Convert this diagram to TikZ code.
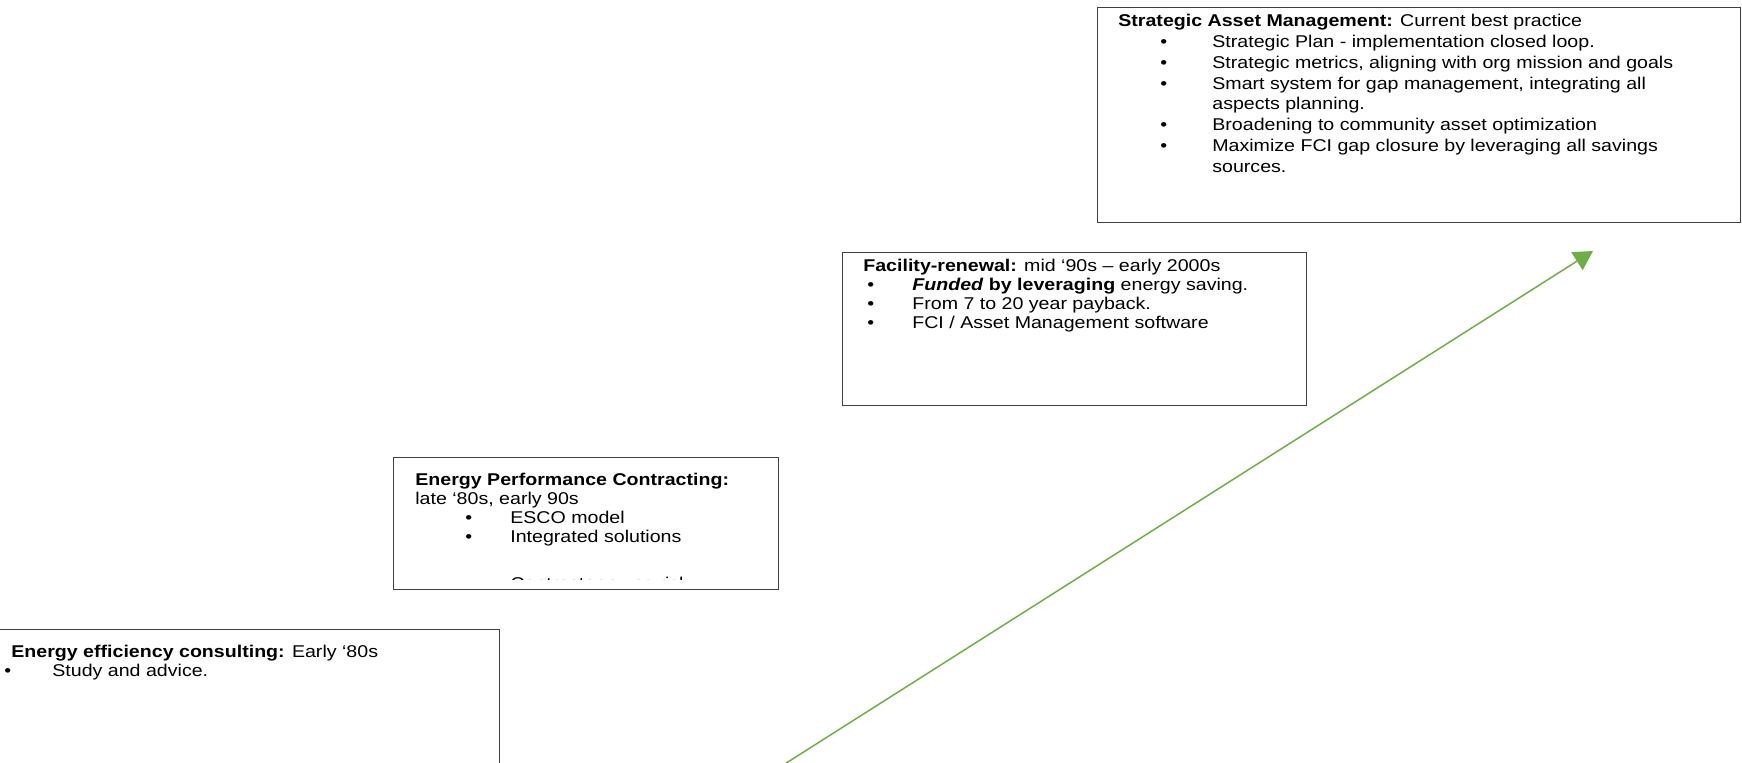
\documentclass[tikz,border=0pt]{standalone}
\usepackage{fontspec}
\setmainfont{Liberation Sans}[FakeStretch=1.15]
\usetikzlibrary{calc,arrows.meta}

\definecolor{risegreen}{RGB}{112,173,71}
% bullet row: indent, bullet box width, text
\newcommand{\bul}[3]{\hspace*{#1}\makebox[#2][l]{\textbullet}#3}

\tikzset{
	stage/.style={draw=black!75, line width=0.75pt, inner sep=0pt, anchor=north west},
	stagetext/.style={inner sep=0pt, anchor=base west, font=\fontsize{9.7}{10.8}\selectfont},
}

\begin{document}
\begin{tikzpicture}
			%%%%% START %%%%%
			
			\clip (0, 0) rectangle (34.84, 15.24);
			
			% stage boxes
			\node[stage, minimum width=12.85cm, minimum height=4.3cm] (sam) at (21.94, 15.1) {};
			\node[stage, minimum width=9.28cm, minimum height=3.06cm] (renew) at (16.84, 10.2) {};
			\node[stage, minimum width=7.7cm, minimum height=2.64cm] (epc) at (7.86, 6.1) {};
			\node[stage, minimum width=10.28cm, minimum height=3cm] (consult) at (-0.3, 2.66) {};
			
			% texts
			\node[stagetext, font=\fontsize{9.7}{11.8}\selectfont] (samtext) at (22.36, 14.7) {\begin{minipage}[t]{12.2cm}\raggedright
				\textbf{Strategic Asset Management:} Current best practice\\
				\bul{0.84cm}{1.04cm}{Strategic Plan - implementation closed loop.}\\
				\bul{0.84cm}{1.04cm}{Strategic metrics, aligning with org mission and goals}\\
				\bul{0.84cm}{1.04cm}{Smart system for gap management, integrating all}\\
				\hspace*{1.88cm}aspects planning.\\
				\bul{0.84cm}{1.04cm}{Broadening to community asset optimization}\\
				\bul{0.84cm}{1.04cm}{Maximize FCI gap closure by leveraging all savings}\\
				\hspace*{1.88cm}sources.
			\end{minipage}};
			
			\node[stagetext] (renewtext) at (17.26, 9.8) {\begin{minipage}[t]{8.6cm}\raggedright
				\textbf{Facility-renewal:} mid ‘90s – early 2000s\\
				\bul{0.08cm}{0.9cm}{\textbf{\textit{Funded}} \textbf{by leveraging} energy saving.}\\
				\bul{0.08cm}{0.9cm}{From 7 to 20 year payback.}\\
				\bul{0.08cm}{0.9cm}{FCI / Asset Management software}
			\end{minipage}};
			
			\begin{scope}
				\clip ($(epc.north west)+(0.05, -0.05)$) rectangle ($(epc.south east)+(-0.05, 0.22)$);
				\node[stagetext] (epctext) at (8.3, 5.52) {\begin{minipage}[t]{7.2cm}\raggedright
					\textbf{Energy Performance Contracting:}\\
					late ‘80s, early 90s\\
					\bul{1.0cm}{0.9cm}{ESCO model}\\
					\bul{1.0cm}{0.9cm}{Integrated solutions}\\[0.55cm]
					\bul{1.0cm}{0.9cm}{Contractor owns risk}
				\end{minipage}};
			\end{scope}
			
			\node[stagetext] (consulttext) at (0.22, 2.08) {\begin{minipage}[t]{9.4cm}\raggedright
				\textbf{Energy efficiency consulting:} Early ‘80s\\
				\bul{-0.14cm}{0.96cm}{Study and advice.}
			\end{minipage}};
			
			% rising arrow
			\coordinate (risefoot) at (15.6, -0.1);
			\coordinate (risetip) at (31.86, 10.22);
			\draw[risegreen, line width=0.85pt, -{Triangle[length=0.38cm, width=0.42cm]}] (risefoot) -- (risetip);
			
			%%%%% END %%%%%
\end{tikzpicture}
\end{document}
